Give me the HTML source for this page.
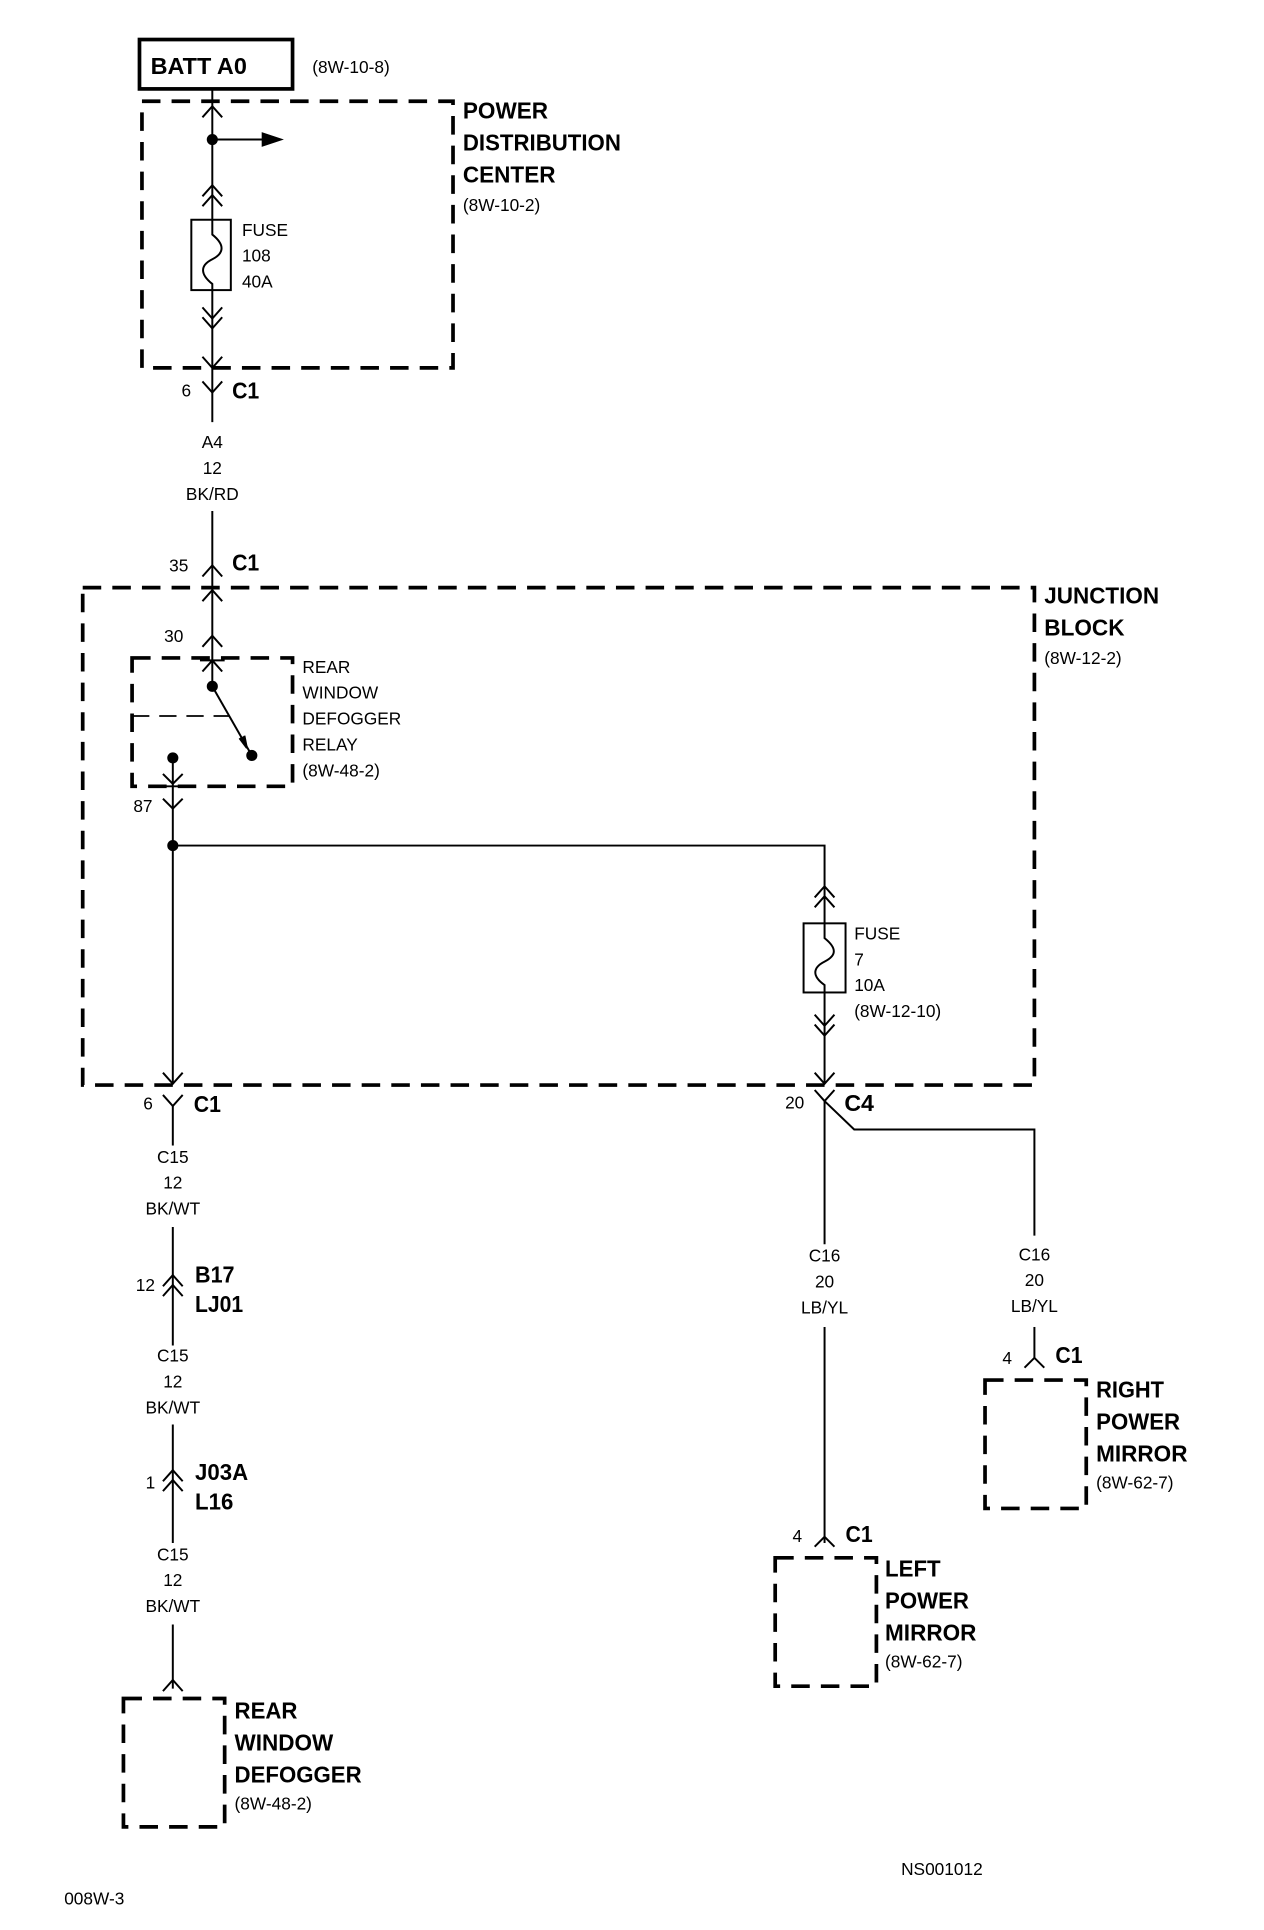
<!DOCTYPE html>
<html><head><meta charset="utf-8"><style>
html,body{margin:0;padding:0;background:#fff;}
svg{display:block;}
text{font-family:"Liberation Sans",Arial,sans-serif;fill:#000;}
.s{font-size:14px;}
.b{font-size:19px;font-weight:bold;}
</style></head><body>
<svg width="1264" height="1930" viewBox="0 0 1024 1563.5" xmlns="http://www.w3.org/2000/svg">
<g fill="none" stroke="#000" stroke-width="1.6">
<rect x="113" y="32" width="124" height="40" stroke-width="3"/>
<g stroke-width="3" stroke-dasharray="15 9">
<rect x="115" y="82" width="252" height="216"/>
<rect x="67" y="476" width="771" height="403"/>
<rect x="107" y="533" width="130" height="104"/>
<rect x="100" y="1376" width="82" height="104"/>
<rect x="798" y="1118" width="82" height="104"/>
<rect x="628" y="1262" width="82" height="104"/>
</g>
<line x1="172" y1="72" x2="172" y2="342"/>
<line x1="172" y1="113" x2="215" y2="113"/>
<path d="M164,95 L172,86 L180,95"/>
<path d="M164,159 L172,150 L180,159 M164,167 L172,158 L180,167"/>
<rect x="155" y="178" width="32" height="57" fill="#fff"/>
<path d="M172,178 L172,190 C182,198 182,205 172,210 C162,215 162,222 172,230 L172,235"/>
<path d="M164,249 L172,258 L180,249 M164,257 L172,266 L180,257"/>
<path d="M164,289 L172,298 L180,289"/>
<path d="M164,309 L172,318 L180,309"/>
<line x1="172" y1="414" x2="172" y2="478" />
<path d="M164,467 L172,458 L180,467"/>
<path d="M164,487 L172,478 L180,487"/>
<line x1="172" y1="478" x2="172" y2="556"/>
<path d="M164,524 L172,515 L180,524"/>
<path d="M164,544 L172,535 L180,544 M162,535 L182,535"/>
<line x1="172" y1="556" x2="204" y2="612"/>
<path d="M194,598 L200,606 L198,596" fill="#000"/>
<line x1="107" y1="580" x2="186" y2="580" stroke-dasharray="14 8" stroke-width="1.4"/>
<line x1="140" y1="614" x2="140" y2="685"/>
<path d="M132,627 L140,635 L148,627 M130,637 L150,637"/>
<path d="M132,647 L140,655 L148,647"/>
<line x1="140" y1="685" x2="140" y2="878"/>
<path d="M132,869 L140,878 L148,869"/>
<path d="M132,887 L140,896 L148,887"/>
<line x1="140" y1="896" x2="140" y2="928"/>
<line x1="140" y1="994" x2="140" y2="1090"/>
<path d="M132,1042 L140,1033 L148,1042 M132,1050 L140,1041 L148,1050"/>
<line x1="140" y1="1154" x2="140" y2="1250"/>
<path d="M132,1200 L140,1191 L148,1200 M132,1208 L140,1199 L148,1208"/>
<line x1="140" y1="1316" x2="140" y2="1368"/>
<path d="M132,1370 L140,1361 L148,1370"/>
<path d="M140,685 L668,685 L668,878"/>
<path d="M660,727 L668,718 L676,727 M660,735 L668,726 L676,735"/>
<rect x="651" y="748" width="34" height="56" fill="#fff"/>
<path d="M668,748 L668,760 C678,768 678,774 668,779 C658,784 658,791 668,798 L668,804"/>
<path d="M660,822 L668,831 L676,822 M660,830 L668,839 L676,830"/>
<path d="M660,869 L668,878 L676,869"/>
<path d="M660,883 L668,892 L676,883"/>
<line x1="668" y1="892" x2="668" y2="1008"/>
<path d="M668,892 L692,915 L838,915 L838,1001"/>
<line x1="668" y1="1075" x2="668" y2="1250"/>
<path d="M660,1253 L668,1245 L676,1253"/>
<line x1="838" y1="1075" x2="838" y2="1100"/>
<path d="M830,1108 L838,1100 L846,1108"/>
</g>
<g fill="#000">
<circle cx="172" cy="113" r="4.5"/>
<path d="M212,107 L230,113 L212,119 Z"/>
<circle cx="172" cy="556" r="4.5"/>
<circle cx="204" cy="612" r="4.5"/>
<circle cx="140" cy="614" r="4.5"/>
<circle cx="140" cy="685" r="4.5"/>
</g>
<text class="b" x="122" y="60" textLength="78" lengthAdjust="spacingAndGlyphs">BATT A0</text>
<text class="s" x="253" y="59">(8W-10-8)</text>
<text class="b" x="375" y="96" textLength="69" lengthAdjust="spacingAndGlyphs">POWER</text>
<text class="b" x="375" y="122" textLength="128" lengthAdjust="spacingAndGlyphs">DISTRIBUTION</text>
<text class="b" x="375" y="148" textLength="75" lengthAdjust="spacingAndGlyphs">CENTER</text>
<text class="s" x="375" y="171">(8W-10-2)</text>
<text class="s" x="196" y="191">FUSE</text>
<text class="s" x="196" y="212">108</text>
<text class="s" x="196" y="233">40A</text>
<text class="s" x="147" y="321">6</text>
<text class="b" x="188" y="323" textLength="22" lengthAdjust="spacingAndGlyphs">C1</text>
<g class="s" text-anchor="middle"><text x="172" y="363">A4</text><text x="172" y="384">12</text><text x="172" y="405">BK/RD</text></g>
<text class="s" x="137" y="463">35</text>
<text class="b" x="188" y="462" textLength="22" lengthAdjust="spacingAndGlyphs">C1</text>
<text class="b" x="846" y="489" textLength="93" lengthAdjust="spacingAndGlyphs">JUNCTION</text>
<text class="b" x="846" y="515" textLength="65" lengthAdjust="spacingAndGlyphs">BLOCK</text>
<text class="s" x="846" y="538">(8W-12-2)</text>
<text class="s" x="133" y="520">30</text>
<text class="s" x="245" y="545">REAR</text>
<text class="s" x="245" y="566">WINDOW</text>
<text class="s" x="245" y="587">DEFOGGER</text>
<text class="s" x="245" y="608">RELAY</text>
<text class="s" x="245" y="629">(8W-48-2)</text>
<text class="s" x="108" y="658">87</text>
<text class="s" x="692" y="761">FUSE</text>
<text class="s" x="692" y="782">7</text>
<text class="s" x="692" y="803">10A</text>
<text class="s" x="692" y="824">(8W-12-10)</text>
<text class="s" x="116" y="899">6</text>
<text class="b" x="157" y="901" textLength="22" lengthAdjust="spacingAndGlyphs">C1</text>
<text class="s" x="636" y="898">20</text>
<text class="b" x="684" y="900" textLength="24" lengthAdjust="spacingAndGlyphs">C4</text>
<g class="s" text-anchor="middle">
<text x="140" y="942">C15</text><text x="140" y="963">12</text><text x="140" y="984">BK/WT</text>
<text x="140" y="1103">C15</text><text x="140" y="1124">12</text><text x="140" y="1145">BK/WT</text>
<text x="140" y="1264">C15</text><text x="140" y="1285">12</text><text x="140" y="1306">BK/WT</text>
<text x="668" y="1022">C16</text><text x="668" y="1043">20</text><text x="668" y="1064">LB/YL</text>
<text x="838" y="1021">C16</text><text x="838" y="1042">20</text><text x="838" y="1063">LB/YL</text>
</g>
<text class="s" x="110" y="1046">12</text>
<text class="b" x="158" y="1039" textLength="32" lengthAdjust="spacingAndGlyphs">B17</text>
<text class="b" x="158" y="1063" textLength="39" lengthAdjust="spacingAndGlyphs">LJ01</text>
<text class="s" x="118" y="1206">1</text>
<text class="b" x="158" y="1199" textLength="43" lengthAdjust="spacingAndGlyphs">J03A</text>
<text class="b" x="158" y="1223" textLength="31" lengthAdjust="spacingAndGlyphs">L16</text>
<text class="b" x="190" y="1392" textLength="51" lengthAdjust="spacingAndGlyphs">REAR</text>
<text class="b" x="190" y="1418" textLength="80" lengthAdjust="spacingAndGlyphs">WINDOW</text>
<text class="b" x="190" y="1444" textLength="103" lengthAdjust="spacingAndGlyphs">DEFOGGER</text>
<text class="s" x="190" y="1466">(8W-48-2)</text>
<text class="s" x="812" y="1105">4</text>
<text class="b" x="855" y="1104" textLength="22" lengthAdjust="spacingAndGlyphs">C1</text>
<text class="b" x="888" y="1132" textLength="55" lengthAdjust="spacingAndGlyphs">RIGHT</text>
<text class="b" x="888" y="1158" textLength="68" lengthAdjust="spacingAndGlyphs">POWER</text>
<text class="b" x="888" y="1184" textLength="74" lengthAdjust="spacingAndGlyphs">MIRROR</text>
<text class="s" x="888" y="1206">(8W-62-7)</text>
<text class="s" x="642" y="1249">4</text>
<text class="b" x="685" y="1249" textLength="22" lengthAdjust="spacingAndGlyphs">C1</text>
<text class="b" x="717" y="1277" textLength="45" lengthAdjust="spacingAndGlyphs">LEFT</text>
<text class="b" x="717" y="1303" textLength="68" lengthAdjust="spacingAndGlyphs">POWER</text>
<text class="b" x="717" y="1329" textLength="74" lengthAdjust="spacingAndGlyphs">MIRROR</text>
<text class="s" x="717" y="1351">(8W-62-7)</text>
<text class="s" x="730" y="1519">NS001012</text>
<text class="s" x="52" y="1543">008W-3</text>
</svg>
</body></html>
